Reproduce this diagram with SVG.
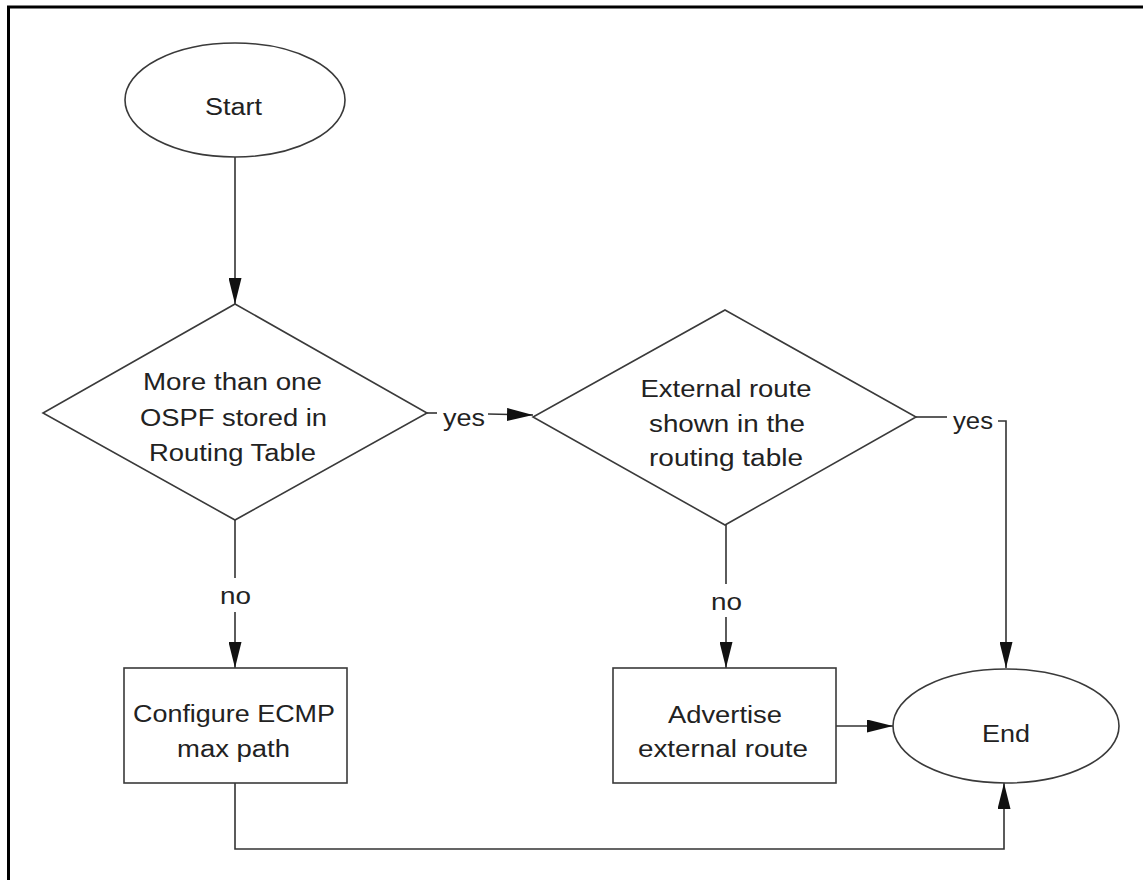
<svg xmlns="http://www.w3.org/2000/svg" width="1143" height="880" viewBox="0 0 1143 880">
<style>
.shape{fill:#fff;stroke:#3a3a3a;stroke-width:1.6}
.conn{fill:none;stroke:#333;stroke-width:1.6}
text{font-family:"Liberation Sans",Arial,sans-serif;font-size:23px;fill:#222;text-anchor:middle}
</style>
<defs>
<marker id="arr" markerUnits="userSpaceOnUse" markerWidth="27" markerHeight="13" refX="26" refY="6.5" orient="auto">
<path d="M0,0 L26,6.5 L0,13 z" fill="#111"/>
</marker>
</defs>
<rect x="0" y="0" width="1143" height="880" fill="#fff"/>
<path d="M8.5,880 L8.5,7 L1143,7" fill="none" stroke="#000" stroke-width="3"/>
<g id="connectors">
<line class="conn" x1="235" y1="157" x2="235" y2="304" marker-end="url(#arr)"/>
<line class="conn" x1="427" y1="413" x2="437" y2="413"/>
<line class="conn" x1="488" y1="414" x2="533" y2="415" marker-end="url(#arr)"/>
<line class="conn" x1="916" y1="417" x2="947" y2="417"/>
<polyline class="conn" points="998,421 1006,421 1006,668" marker-end="url(#arr)"/>
<line class="conn" x1="235" y1="520" x2="235" y2="578"/>
<line class="conn" x1="235" y1="612" x2="235" y2="668" marker-end="url(#arr)"/>
<line class="conn" x1="726" y1="525" x2="726" y2="584"/>
<line class="conn" x1="726" y1="617" x2="726" y2="668" marker-end="url(#arr)"/>
<line class="conn" x1="836" y1="726" x2="893" y2="726" marker-end="url(#arr)"/>
<polyline class="conn" points="235,783 235,849 1004,849 1004,783" marker-end="url(#arr)"/>
<text x="464" y="426" textLength="42" lengthAdjust="spacingAndGlyphs">yes</text>
<text x="973" y="429" textLength="40" lengthAdjust="spacingAndGlyphs">yes</text>
<text x="235.5" y="604" textLength="31" lengthAdjust="spacingAndGlyphs">no</text>
<text x="726.5" y="610" textLength="31" lengthAdjust="spacingAndGlyphs">no</text>
</g>
<g id="start">
<ellipse class="shape" cx="235" cy="100" rx="110" ry="57"/>
<text x="233.5" y="115" textLength="57" lengthAdjust="spacingAndGlyphs">Start</text>
</g>
<g id="decision1">
<polygon class="shape" points="235,304 427,413 235,520 43,413"/>
<text x="232.5" y="390" textLength="179" lengthAdjust="spacingAndGlyphs">More than one</text>
<text x="233.5" y="426" textLength="187" lengthAdjust="spacingAndGlyphs">OSPF stored in</text>
<text x="232.5" y="461" textLength="167" lengthAdjust="spacingAndGlyphs">Routing Table</text>
</g>
<g id="decision2">
<polygon class="shape" points="725,310 916,417 725,525 533,417"/>
<text x="726" y="397" textLength="171" lengthAdjust="spacingAndGlyphs">External route</text>
<text x="727" y="432" textLength="156" lengthAdjust="spacingAndGlyphs">shown in the</text>
<text x="726" y="466" textLength="154" lengthAdjust="spacingAndGlyphs">routing table</text>
</g>
<g id="configure">
<rect class="shape" x="124" y="668" width="223" height="115"/>
<text x="234" y="722" textLength="202" lengthAdjust="spacingAndGlyphs">Configure ECMP</text>
<text x="233.5" y="757" textLength="113" lengthAdjust="spacingAndGlyphs">max path</text>
</g>
<g id="advertise">
<rect class="shape" x="613" y="668" width="223" height="115"/>
<text x="725" y="723" textLength="114" lengthAdjust="spacingAndGlyphs">Advertise</text>
<text x="723" y="757" textLength="170" lengthAdjust="spacingAndGlyphs">external route</text>
</g>
<g id="end">
<ellipse class="shape" cx="1006" cy="726" rx="113" ry="57"/>
<text x="1006" y="742" textLength="48" lengthAdjust="spacingAndGlyphs">End</text>
</g>
</svg>
